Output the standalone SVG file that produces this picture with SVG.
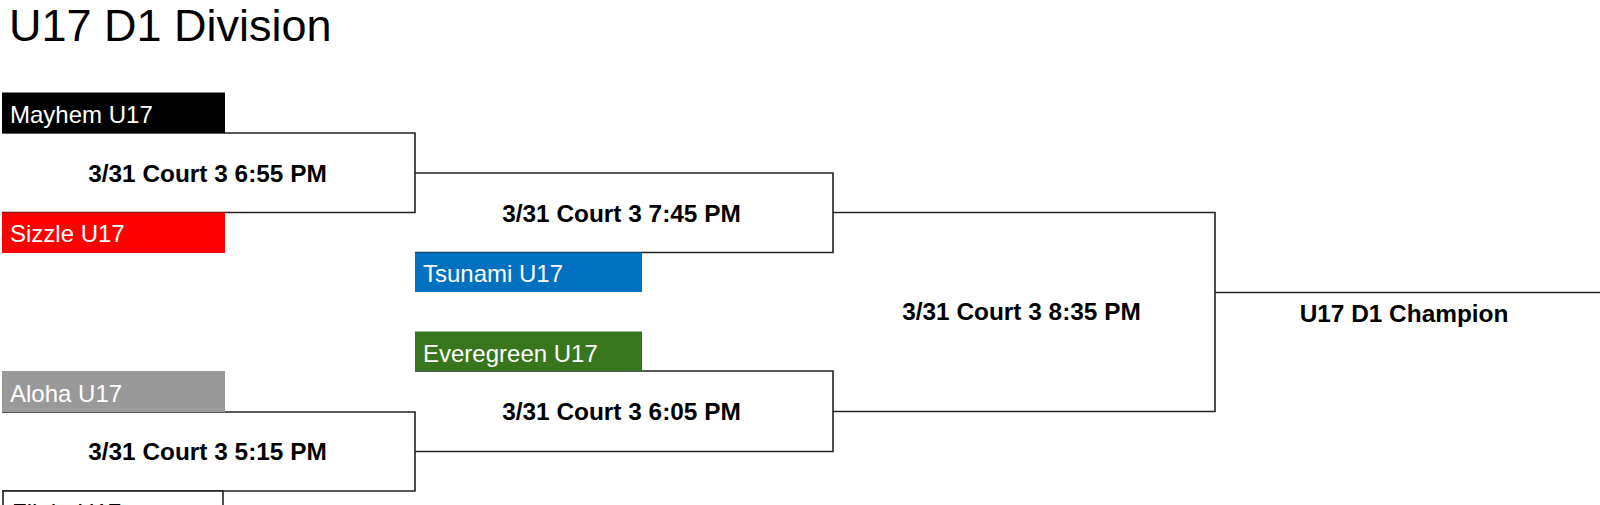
<svg xmlns="http://www.w3.org/2000/svg" width="1600" height="505" viewBox="0 0 1600 505">
<style>
.bg{fill:#ffffff}
.title{font-family:"Liberation Sans",Arial,sans-serif;font-size:45px;fill:#000}
.team{font-family:"Liberation Sans",Arial,sans-serif;font-size:24px;fill:#fff}
.match{font-family:"Liberation Sans",Arial,sans-serif;font-size:24.4px;font-weight:bold;fill:#000;text-anchor:middle}
.line{fill:none;stroke:#222;stroke-width:1.6}
</style>
<rect class="bg" x="0" y="0" width="1600" height="505"/>
<text class="title" x="9" y="41">U17 D1 Division</text>
<g id="connectors">
<path class="line" d="M2,133 H415 V212.5 H2"/>
<path class="line" d="M415,173 H833 V252.5 H415"/>
<path class="line" d="M2,412 H415 V491 H2"/>
<path class="line" d="M415,371 H833 V451.5 H415"/>
<path class="line" d="M833,212.5 H1215 V411.5 H833"/>
<path class="line" d="M1215,292.5 H1600"/>
</g>
<g id="team-mayhem"><rect x="2" y="92.5" width="223" height="40.5" fill="#000"/><text class="team" x="10" y="123">Mayhem U17</text></g>
<g id="team-sizzle"><rect x="2" y="212.5" width="223" height="40.5" fill="#ff0000"/><text class="team" x="10" y="242">Sizzle U17</text></g>
<g id="team-tsunami"><rect x="415" y="252.5" width="227" height="39.5" fill="#0070c0"/><text class="team" x="423" y="282">Tsunami U17</text></g>
<g id="team-everegreen"><rect x="415" y="331.5" width="227" height="39.5" fill="#38761d"/><text class="team" x="423" y="362">Everegreen U17</text></g>
<g id="team-aloha"><rect x="2" y="371" width="223" height="41" fill="#999999"/><text class="team" x="10" y="402">Aloha U17</text></g>
<g id="team-flight"><rect x="3" y="491" width="220" height="40" fill="#fff" stroke="#222" stroke-width="1.6"/><text class="team" x="12" y="521" style="fill:#000">Flight U17</text></g>
<g id="match-655"><text class="match" x="207.5" y="181.5">3/31 Court 3 6:55 PM</text></g>
<g id="match-745"><text class="match" x="621.5" y="221.5">3/31 Court 3 7:45 PM</text></g>
<g id="match-515"><text class="match" x="207.5" y="460">3/31 Court 3 5:15 PM</text></g>
<g id="match-605"><text class="match" x="621.5" y="420">3/31 Court 3 6:05 PM</text></g>
<g id="match-835"><text class="match" x="1021.5" y="320">3/31 Court 3 8:35 PM</text></g>
<g id="champion"><text class="match" x="1404" y="321.5">U17 D1 Champion</text></g>
</svg>
